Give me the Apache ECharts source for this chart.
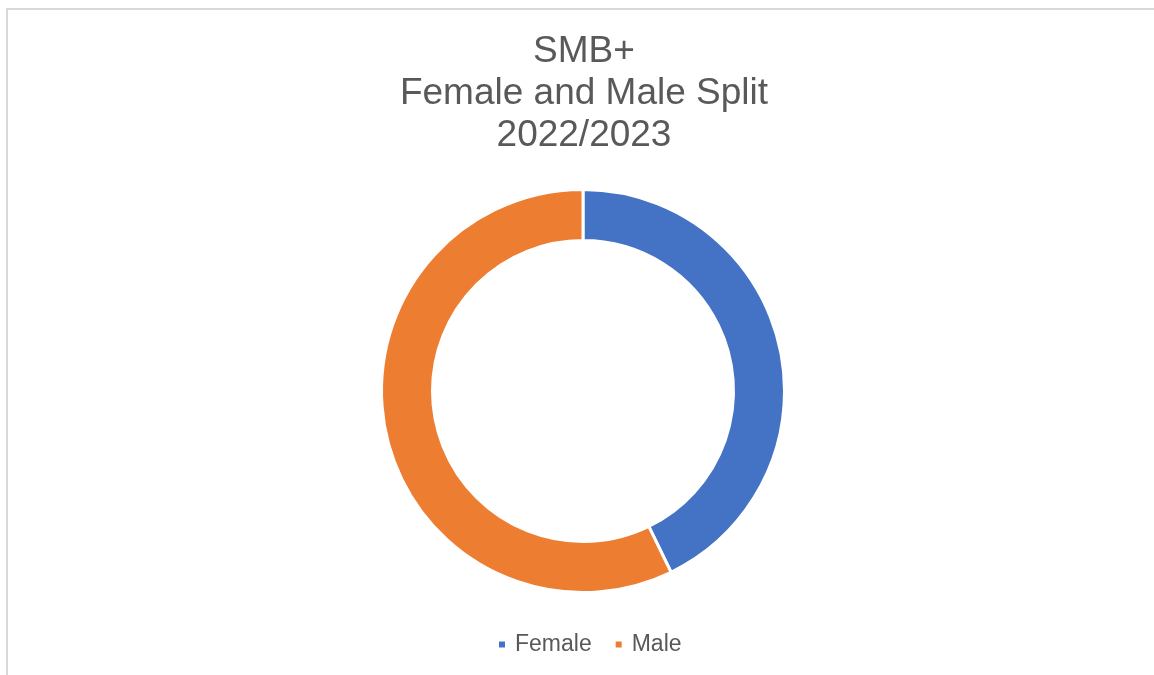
<!DOCTYPE html>
<html>
<head>
<meta charset="utf-8">
<script src="https://cdn.jsdelivr.net/npm/echarts@6/dist/echarts.min.js"></script>
<style>
  html, body { margin: 0; padding: 0; background: #fff; }
  #frame { position: absolute; left: 6px; top: 8px; width: 1200px; height: 700px;
           border-left: 2px solid #d9d9d9; border-top: 2px solid #d9d9d9; }
  #main { position: absolute; left: 0; top: 0; width: 1154px; height: 675px; }
</style>
</head>
<body>
<div id="frame"></div>
<div id="main"></div>
<script>
// share of SMB+ split
var categories = ['Female', 'Male'];
var shares = [42.8, 57.2];
var colors = ['#4472c4', '#ed7d31'];

var chart = echarts.init(document.getElementById('main'));
var option = {
    title: {
        text: 'SMB+\nFemale and Male Split\n2022/2023',
        left: 584,
        textAlign: 'center',
        top: 31,
        padding: 0,
        textStyle: {
            fontFamily: 'Liberation Sans, Arial',
            fontSize: 37,
            fontWeight: 'normal',
            color: '#595959',
            lineHeight: 42
        }
    },
    legend: {
        data: categories,
        bottom: 14,
        left: 492,
        icon: 'rect',
        itemWidth: 8,
        itemHeight: 8,
        itemGap: 22,
        textStyle: {
            fontFamily: 'Liberation Sans, Arial',
            fontSize: 23,
            color: '#595959',
            padding: [0, 0, 0, 4]
        }
    },
    series: [{
        type: 'pie',
        center: [583, 391],
        radius: [150.5, 201.5],
        startAngle: 90,
        clockwise: true,
        silent: true,
        label: { show: false },
        labelLine: { show: false },
        itemStyle: { borderColor: '#fff', borderWidth: 3 },
        data: categories.map(function (c, i) {
            return { name: c, value: shares[i], itemStyle: { color: colors[i] } };
        })
    }]
};
chart.setOption(option);
</script>
</body>
</html>
